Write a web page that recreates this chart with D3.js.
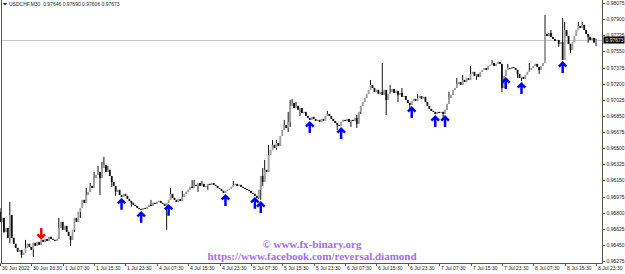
<!DOCTYPE html>
<html lang="en">
<head>
<meta charset="UTF-8">
<title>USDCHF,M30</title>
<script src="https://d3js.org/d3.v7.min.js"></script>
<style>
  body { margin: 0; background: #fff; }
  svg { display: block; }
  text { font-family: 'Liberation Sans', Arial, sans-serif; }
  .wm { font-family: 'Liberation Serif', 'Times New Roman', serif; font-weight: bold; fill: #a46cf2; }
</style>
</head>
<body>
<script>
// USDCHF M30, 30 Jun 15:30 .. 8 Jul 23:30 (305 bars), closes
var firstOpen = 0.95808;
var closes = [
  0.95699, 0.95743, 0.95591, 0.95634, 0.95526, 0.95775, 0.95526, 0.95461, 0.95417, 0.95374, 0.95395, 0.95341, 0.95363, 0.95417, 0.95461, 0.95428,
  0.95395, 0.95472, 0.95439, 0.95482, 0.95450, 0.95504, 0.95482, 0.95515, 0.95493, 0.95537, 0.95515, 0.95504, 0.95493, 0.95515, 0.95634, 0.95699,
  0.95613, 0.95656, 0.95591, 0.95547, 0.95504, 0.95613, 0.95743, 0.95699, 0.95808, 0.95851, 0.95938, 0.95906, 0.95992, 0.96025, 0.96090, 0.96068,
  0.96177, 0.96209, 0.96242, 0.96177, 0.96285, 0.96318, 0.96242, 0.96264, 0.96198, 0.96133, 0.96090, 0.96025, 0.96047, 0.95992, 0.95971, 0.96003,
  0.95982, 0.95949, 0.95927, 0.95906, 0.95884, 0.95873, 0.95851, 0.95840, 0.95830, 0.95851, 0.95840, 0.95862, 0.95884, 0.95873, 0.95906, 0.95895,
  0.95916, 0.95927, 0.95906, 0.95895, 0.95873, 0.95906, 0.95938, 0.96003, 0.95960, 0.95938, 0.95916, 0.95949, 0.95927, 0.95971, 0.96003, 0.96025,
  0.96047, 0.96079, 0.96068, 0.96101, 0.96090, 0.96122, 0.96090, 0.96112, 0.96079, 0.96090, 0.96112, 0.96101, 0.96122, 0.96101, 0.96090, 0.96068,
  0.96057, 0.96036, 0.96014, 0.96036, 0.96047, 0.96057, 0.96079, 0.96101, 0.96112, 0.96090, 0.96101, 0.96079, 0.96068, 0.96057, 0.96047, 0.96036,
  0.96014, 0.96003, 0.95982, 0.95960, 0.96047, 0.96198, 0.96133, 0.96264, 0.96242, 0.96427, 0.96481, 0.96535, 0.96502, 0.96556, 0.96524, 0.96632,
  0.96698, 0.96752, 0.96719, 0.96784, 0.96958, 0.96990, 0.96936, 0.96958, 0.96915, 0.96936, 0.96882, 0.96893, 0.96849, 0.96828, 0.96806, 0.96839,
  0.96817, 0.96795, 0.96806, 0.96784, 0.96817, 0.96795, 0.96849, 0.96871, 0.96849, 0.96817, 0.96795, 0.96773, 0.96752, 0.96741, 0.96784, 0.96806,
  0.96795, 0.96817, 0.96784, 0.96806, 0.96795, 0.96828, 0.96763, 0.96893, 0.96958, 0.97001, 0.97045, 0.97088, 0.97132, 0.97186, 0.97153, 0.97110,
  0.97132, 0.97088, 0.97110, 0.97077, 0.97132, 0.97023, 0.97088, 0.97110, 0.97142, 0.97099, 0.97121, 0.97077, 0.97099, 0.97056, 0.97066, 0.97023,
  0.96990, 0.96969, 0.97012, 0.97034, 0.97012, 0.97045, 0.97066, 0.97034, 0.97056, 0.97001, 0.96958, 0.96925, 0.96904, 0.96893, 0.96871, 0.96893,
  0.96882, 0.96893, 0.96871, 0.96915, 0.96980, 0.97045, 0.97077, 0.97132, 0.97153, 0.97197, 0.97218, 0.97186, 0.97240, 0.97218, 0.97262, 0.97240,
  0.97305, 0.97327, 0.97283, 0.97305, 0.97273, 0.97327, 0.97349, 0.97370, 0.97349, 0.97392, 0.97403, 0.97424, 0.97392, 0.97414, 0.97435, 0.97414,
  0.97153, 0.97283, 0.97349, 0.97370, 0.97359, 0.97381, 0.97370, 0.97349, 0.97305, 0.97262, 0.97273, 0.97251, 0.97294, 0.97327, 0.97349, 0.97370,
  0.97392, 0.97414, 0.97381, 0.97349, 0.97392, 0.97424, 0.97739, 0.97717, 0.97750, 0.97707, 0.97685, 0.97663, 0.97674, 0.97631, 0.97652, 0.97457,
  0.97783, 0.97717, 0.97631, 0.97566, 0.97652, 0.97717, 0.97783, 0.97826, 0.97804, 0.97837, 0.97783, 0.97739, 0.97707, 0.97674, 0.97696, 0.97646, 0.97673
];

// [bar, high, low] for bars whose wicks stick out visibly (null = body edge)
var wicks = [
  [0, 0.95851, null], [2, null, 0.95580], [5, 0.95916, 0.95472], [11, null, 0.95309],
  [13, 0.95504, null], [17, null, 0.95320], [30, 0.95743, null], [36, null, 0.95439],
  [38, null, 0.95591], [41, null, 0.95743], [44, 0.96068, null], [46, 0.96122, null],
  [48, 0.96242, null], [50, 0.96307, null], [51, null, 0.95992], [52, 0.96350, null],
  [53, 0.96405, null], [55, 0.96307, null], [57, null, 0.96079], [59, null, 0.95982],
  [67, null, 0.95862], [77, 0.95938, null], [85, null, 0.95613], [87, 0.96068, null],
  [93, 0.96036, null], [98, 0.96155, null], [99, 0.96155, null], [101, null, 0.96025],
  [103, 0.96144, null], [106, null, 0.96047], [119, 0.96144, null], [132, null, 0.95949],
  [133, null, 0.95938], [134, 0.96285, 0.96090], [135, 0.96372, null], [137, 0.96535, null],
  [139, 0.96589, null], [141, 0.96589, 0.96481], [143, null, 0.96524], [145, 0.96806, null],
  [147, 0.96893, 0.96676], [148, 0.97023, 0.96730], [149, 0.97034, null], [151, 0.97001, null],
  [153, null, 0.96849], [167, 0.96904, null], [172, null, 0.96698], [179, null, 0.96730],
  [182, 0.96860, 0.96719], [184, null, 0.96871], [189, 0.97240, null], [195, 0.97424, null],
  [197, null, 0.96860], [199, 0.97186, null], [203, null, 0.97001], [205, 0.97153, null],
  [209, null, 0.96904], [213, 0.97088, null], [226, null, 0.96839], [229, 0.97110, null],
  [233, 0.97262, null], [236, 0.97294, null], [240, 0.97392, null], [243, null, 0.97240],
  [251, 0.97457, null], [256, null, 0.97110], [259, 0.97414, null], [264, null, 0.97262],
  [266, null, 0.97229], [270, 0.97424, null], [275, null, 0.97305], [278, 0.97945, null],
  [281, 0.97783, null], [285, null, 0.97598], [287, 0.97913, null], [288, 0.97869, null],
  [291, null, 0.97533], [295, 0.97869, null], [297, 0.97869, null], [300, null, 0.97642],
  [304, 0.97690, 0.97606]
];

var buyArrows = [62, 72, 86, 115, 130, 133, 158, 174, 210, 222, 227, 258, 266, 287];
var sellArrows = [21];

var priceTicks = [0.98075, 0.97900, 0.97725, 0.97550, 0.97375, 0.97200, 0.97025, 0.96850, 0.96675,
  0.96500, 0.96325, 0.96150, 0.95975, 0.95800, 0.95625, 0.95450, 0.95275];

var timeLabels = ["30 Jun 2022", "30 Jun 23:30", "1 Jul 07:30", "1 Jul 15:30", "1 Jul 23:30",
  "4 Jul 07:30", "4 Jul 15:30", "4 Jul 23:30", "5 Jul 07:30", "5 Jul 15:30", "5 Jul 23:30",
  "6 Jul 07:30", "6 Jul 15:30", "6 Jul 23:30", "7 Jul 07:30", "7 Jul 15:30", "7 Jul 23:30",
  "8 Jul 07:30", "8 Jul 15:30", "8 Jul 23:30"];
var barsPerLabel = 16;

var title = "USDCHF,M30  0.97646 0.97690 0.97606 0.97673";
var bid = 0.97673;

var width = 625, height = 274;
var plotRight = 602.5, plotBottom = 263.5;

var svg = d3.select("body").append("svg")
  .attr("width", width)
  .attr("height", height);

var x = d3.scaleLinear().domain([0, closes.length - 1]).range([0, 596]);
var y = d3.scaleLinear().domain([0.95275, 0.98075]).range([261, 3]);

var wickMap = {};
wicks.forEach(function (w) { wickMap[w[0]] = w; });

var bars = closes.map(function (c, i) {
  var o = i ? closes[i - 1] : firstOpen;
  var w = wickMap[i];
  var h = Math.max(o, c), l = Math.min(o, c);
  if (w && w[1] != null) h = w[1];
  if (w && w[2] != null) l = w[2];
  return { i: i, o: o, c: c, h: h, l: l };
});

var plot = svg.append("g");

// bid line
plot.append("line")
  .attr("x1", 1).attr("x2", plotRight)
  .attr("y1", Math.round(y(bid)) + 0.5).attr("y2", Math.round(y(bid)) + 0.5)
  .attr("stroke", "#c8c8c8").attr("stroke-width", 1);

var candle = plot.selectAll(".bar")
  .data(bars)
  .enter().append("g")
  .attr("class", "bar");

candle.append("line")
  .attr("x1", function (d) { return x(d.i); })
  .attr("x2", function (d) { return x(d.i); })
  .attr("y1", function (d) { return y(d.h); })
  .attr("y2", function (d) { return y(d.l); })
  .attr("stroke", "#111")
  .attr("stroke-width", 1);

candle.append("rect")
  .attr("x", function (d) { return x(d.i) - 0.9; })
  .attr("width", 1.8)
  .attr("y", function (d) { return y(Math.max(d.o, d.c)); })
  .attr("height", function (d) { return Math.max(1, Math.abs(y(d.o) - y(d.c))); })
  .attr("fill", function (d) { return d.c >= d.o ? "#a0a0a0" : "#111"; });

// signal arrows
plot.selectAll(".buy")
  .data(buyArrows)
  .enter().append("path")
  .attr("class", "buy")
  .attr("transform", function (b) { return "translate(" + x(b) + "," + (y(bars[b].l) + 2) + ")"; })
  .attr("d", "M0,1 V11 M-3.8,4.6 L0,0.8 L3.8,4.6")
  .attr("fill", "none")
  .attr("stroke", "#0000ff")
  .attr("stroke-width", 2.5);

plot.selectAll(".sell")
  .data(sellArrows)
  .enter().append("path")
  .attr("class", "sell")
  .attr("transform", function (b) { return "translate(" + x(b) + "," + (y(bars[b].h) - 1) + ")"; })
  .attr("d", "M0,-1 V-11 M-3.8,-4.6 L0,-0.8 L3.8,-4.6")
  .attr("fill", "none")
  .attr("stroke", "#ff0000")
  .attr("stroke-width", 2.5);

// frame
svg.append("line").attr("x1", 1.5).attr("x2", 1.5).attr("y1", 0).attr("y2", plotBottom)
  .attr("stroke", "#555");
svg.append("line").attr("x1", plotRight).attr("x2", plotRight).attr("y1", 0).attr("y2", plotBottom)
  .attr("stroke", "#555");
svg.append("line").attr("x1", 1).attr("x2", plotRight).attr("y1", plotBottom).attr("y2", plotBottom)
  .attr("stroke", "#555");

// price axis
var yAxis = svg.append("g").attr("transform", "translate(" + plotRight + ",0)");
var yTick = yAxis.selectAll("g")
  .data(priceTicks)
  .enter().append("g")
  .attr("transform", function (d) { return "translate(0," + Math.round(y(d)) + ")"; });
yTick.append("line").attr("x1", 0).attr("x2", 2.5).attr("y1", 0.5).attr("y2", 0.5).attr("stroke", "#555");
yTick.append("text")
  .attr("x", 4).attr("dy", "0.35em")
  .attr("font-size", 5)
  .attr("fill", "#222")
  .text(function (d) { return d.toFixed(5); });

var bidY = y(bid);
yAxis.append("rect")
  .attr("x", 1).attr("y", bidY - 3.5)
  .attr("width", 21).attr("height", 7)
  .attr("fill", "#000");
yAxis.append("text")
  .attr("x", 3).attr("y", bidY).attr("dy", "0.35em")
  .attr("font-size", 5).attr("fill", "#fff")
  .text(bid.toFixed(5));

// time axis
var xTick = svg.append("g").selectAll("g")
  .data(timeLabels)
  .enter().append("g")
  .attr("transform", function (d, k) { return "translate(" + Math.round(x(k * barsPerLabel)) + "," + plotBottom + ")"; });
xTick.append("line").attr("x1", 0.5).attr("x2", 0.5).attr("y1", 0).attr("y2", 2.5).attr("stroke", "#555");
xTick.append("text")
  .attr("x", 2).attr("y", 6)
  .attr("font-size", 5)
  .attr("fill", "#222")
  .text(function (d) { return d; });

// header
svg.append("path").attr("d", "M3,3 L7,3 L5,5.5 Z").attr("fill", "#222");
svg.append("text")
  .attr("x", 9).attr("y", 6)
  .attr("font-size", 5).attr("fill", "#222")
  .attr("xml:space", "preserve")
  .style("white-space", "pre")
  .text(title);

// watermark
svg.append("text").attr("class", "wm")
  .attr("x", 312).attr("y", 248)
  .attr("text-anchor", "middle").attr("font-size", 11)
  .text("\u00a9 www.fx-binary.org");
svg.append("text").attr("class", "wm")
  .attr("x", 312).attr("y", 260)
  .attr("text-anchor", "middle").attr("font-size", 11)
  .text("https://www.facebook.com/reversal.diamond");
</script>
</body>
</html>
